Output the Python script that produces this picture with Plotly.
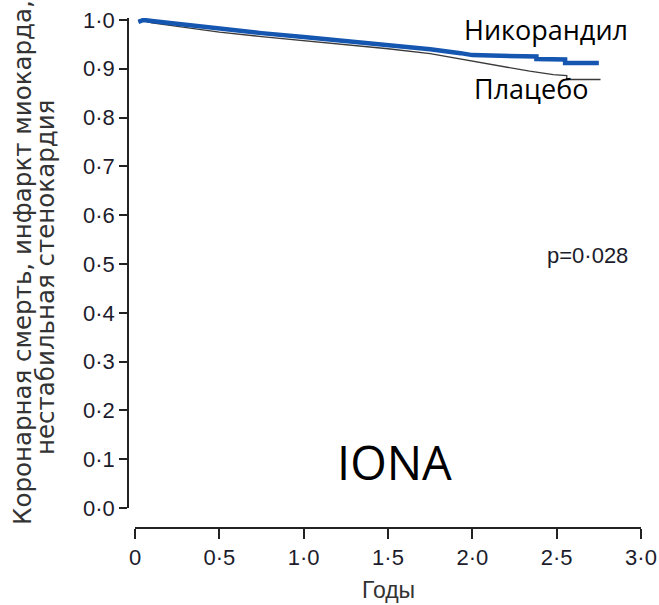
import plotly.graph_objects as go

# Kaplan-Meier style curves
years_nic = [0.02, 0.05, 0.10, 0.30, 0.50, 0.75, 1.00, 1.25, 1.50, 1.75, 1.93, 2.00, 2.38, 2.38, 2.55, 2.55, 2.75]
surv_nic = [0.996, 1.000, 0.998, 0.990, 0.981, 0.973, 0.965, 0.957, 0.947, 0.940, 0.932, 0.928, 0.925, 0.920, 0.919, 0.912, 0.912]

years_pla = [0.02, 0.05, 0.10, 0.30, 0.50, 0.75, 1.00, 1.25, 1.50, 1.75, 1.90, 2.00, 2.18, 2.34, 2.48, 2.56, 2.56, 2.76]
surv_pla = [0.996, 0.998, 0.994, 0.984, 0.975, 0.966, 0.958, 0.950, 0.941, 0.931, 0.922, 0.916, 0.904, 0.895, 0.888, 0.886, 0.878, 0.878]

x_tickvals = [0, 0.5, 1.0, 1.5, 2.0, 2.5, 3.0]
x_ticktext = ["0", "0·5", "1·0", "1·5", "2·0", "2·5", "3·0"]
y_tickvals = [0.0, 0.1, 0.2, 0.3, 0.4, 0.5, 0.6, 0.7, 0.8, 0.9, 1.0]
y_ticktext = ["0·0", "0·1", "0·2", "0·3", "0·4", "0·5", "0·6", "0·7", "0·8", "0·9", "1·0"]

label_nic = "Никорандил"
label_pla = "Плацебо"
p_text = "p=0·028"
study = "IONA"
x_title = "Годы"
y_title_1 = "Коронарная смерть, инфаркт миокарда,"
y_title_2 = "нестабильная стенокардия"

TICKFONT = dict(family="Liberation Sans", size=22, color="#1c1c2c")

fig = go.Figure()
fig.add_trace(go.Scatter(x=years_pla, y=surv_pla, mode="lines",
                         line=dict(color="#3a3a3a", width=1.3), showlegend=False))
fig.add_trace(go.Scatter(x=years_nic, y=surv_nic, mode="lines",
                         line=dict(color="#1456b0", width=4.5), showlegend=False))

fig.update_layout(
    width=659, height=605,
    margin=dict(l=128, r=18, t=18, b=77),
    paper_bgcolor="white", plot_bgcolor="white",
    xaxis=dict(domain=[0.01365, 1], range=[0, 3.0], anchor="free", position=0,
               automargin=False,
               tickvals=x_tickvals, ticktext=x_ticktext, ticks="outside",
               ticklen=10, tickwidth=1.5, tickcolor="#222", showline=True,
               linecolor="#222", linewidth=1.5, showgrid=False, zeroline=False,
               tickfont=TICKFONT),
    yaxis=dict(domain=[0.039, 1], range=[0, 1.004], anchor="free", position=0,
               automargin=False,
               tickvals=y_tickvals, ticktext=y_ticktext, ticks="outside",
               ticklen=8, tickwidth=1.5, tickcolor="#222", showline=True,
               linecolor="#222", linewidth=1.5, showgrid=False, zeroline=False,
               tickfont=TICKFONT),
)

fig.add_annotation(x=2.436, y=0.981, xref="x", yref="y", text=label_nic, showarrow=False,
                   xanchor="center", yanchor="middle",
                   font=dict(family="Open Sans", size=27, color="black"))
fig.add_annotation(x=2.347, y=0.859, xref="x", yref="y", text=label_pla, showarrow=False,
                   xanchor="center", yanchor="middle",
                   font=dict(family="Open Sans", size=27, color="black"))
fig.add_annotation(x=2.68, y=0.518, xref="x", yref="y", text=p_text, showarrow=False,
                   xanchor="center", yanchor="middle",
                   font=dict(family="Liberation Sans", size=22, color="#1c1c2c"))
fig.add_annotation(x=1.541, y=0.094, xref="x", yref="y", text=study, showarrow=False,
                   xanchor="center", yanchor="middle",
                   font=dict(family="Open Sans", size=47, color="black"))
fig.add_annotation(x=1.5, y=-0.1216, xref="x", yref="paper", text=x_title, showarrow=False,
                   xanchor="center", yanchor="middle",
                   font=dict(family="Liberation Sans", size=23, color="#333"))
fig.add_annotation(x=(22 - 128) / 513, y=(528 - 263) / 510, xref="paper", yref="paper",
                   text=y_title_1, showarrow=False, textangle=-90,
                   xanchor="center", yanchor="middle",
                   font=dict(family="DejaVu Sans", size=24.5, color="#333"))
fig.add_annotation(x=(45 - 128) / 513, y=(528 - 278) / 510, xref="paper", yref="paper",
                   text=y_title_2, showarrow=False, textangle=-90,
                   xanchor="center", yanchor="middle",
                   font=dict(family="DejaVu Sans", size=24.5, color="#333"))

fig.write_html("out.html")
